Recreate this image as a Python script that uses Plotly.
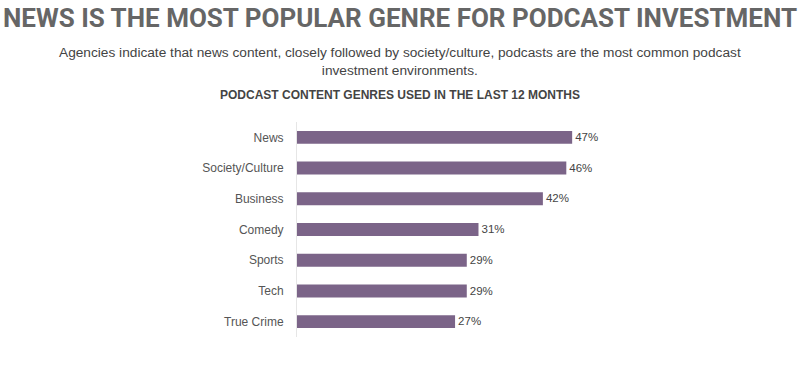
import plotly.graph_objects as go

categories = ["News", "Society/Culture", "Business", "Comedy", "Sports", "Tech", "True Crime"]
values = [47, 46, 42, 31, 29, 29, 27]
labels = ["47%", "46%", "42%", "31%", "29%", "29%", "27%"]

title_text = "NEWS IS THE MOST POPULAR GENRE FOR PODCAST INVESTMENT"
subtitle_text = ("Agencies indicate that news content, closely followed by society/culture, podcasts are the most common podcast<br>"
                 "investment environments.")
chart_title = "PODCAST CONTENT GENRES USED IN THE LAST 12 MONTHS"

BAR = "#7b6488"

fig = go.Figure(go.Bar(
    y=categories, x=values, orientation="h",
    marker=dict(color=BAR, line=dict(width=0)),
    text=labels, textposition="outside", cliponaxis=False,
    textfont=dict(family="Liberation Sans, Arial, sans-serif", size=12.5, color="#444444"),
))

W, H = 800, 368
T, B = 122, 31
L, R = 297, 181
ph = H - T - B

def py(pix):
    return (H - B - pix) / ph

xc = (400 - L) / (W - L - R)

fig.update_layout(
    width=W, height=H,
    margin=dict(l=L, r=R, t=T, b=B, pad=0),
    paper_bgcolor="white", plot_bgcolor="white",
    bargap=0.58,
    showlegend=False,
    xaxis=dict(range=[0, 55], visible=False, fixedrange=True),
    yaxis=dict(autorange="reversed", showgrid=False, zeroline=False,
               showline=True, linecolor="#e6e6e6", linewidth=1,
               ticks="", ticklabelstandoff=10,
               tickfont=dict(family="Liberation Sans, Arial, sans-serif", size=12, color="#555555")),
    annotations=[
        dict(text=title_text, xref="paper", yref="paper", x=xc, y=py(18),
             xanchor="center", yanchor="middle", showarrow=False,
             font=dict(family="Roboto, sans-serif", size=26, color="#666666", weight=700)),
        dict(text=subtitle_text, xref="paper", yref="paper", x=xc, y=py(61),
             xanchor="center", yanchor="middle", showarrow=False, align="center",
             font=dict(family="Liberation Sans, Arial, sans-serif", size=13.7, color="#444444")),
        dict(text="<b>" + chart_title + "</b>", xref="paper", yref="paper", x=xc, y=py(95),
             xanchor="center", yanchor="middle", showarrow=False,
             font=dict(family="Liberation Sans, Arial, sans-serif", size=12, color="#444444")),
    ],
)

fig.write_html("out.html", config={"displayModeBar": False},
               post_script="document.body.style.margin='0';document.body.style.padding='0';")
